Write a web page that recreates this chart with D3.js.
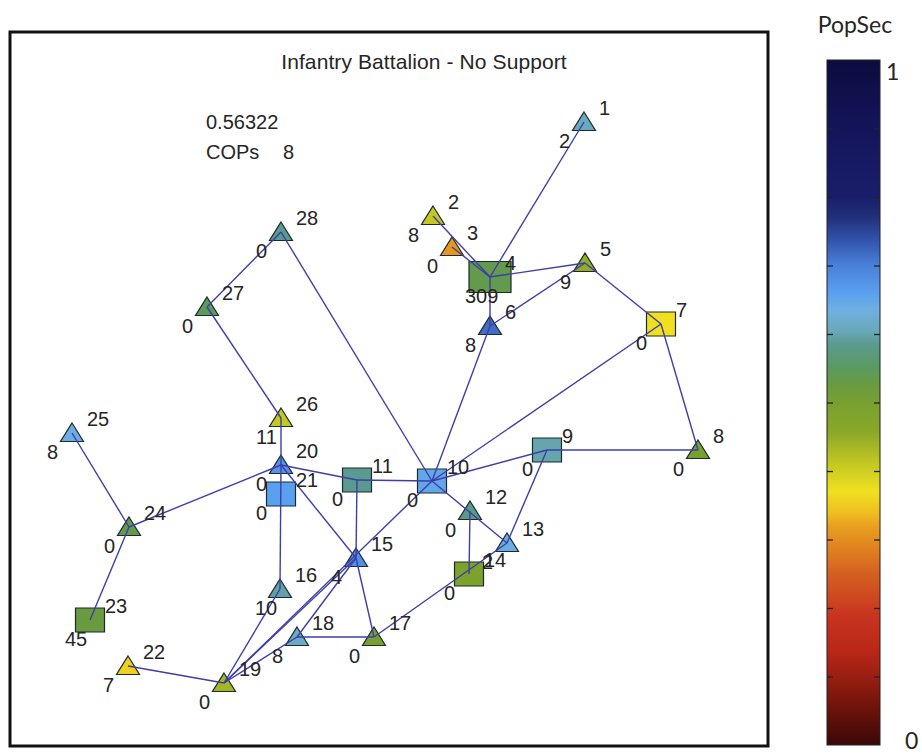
<!DOCTYPE html>
<html>
<head>
<meta charset="utf-8">
<script src="https://cdn.jsdelivr.net/npm/d3@7"></script>
<style>
  body { margin: 0; background: #fff; }
  svg text { font-family: "Liberation Sans", Arial, sans-serif; fill: #252525; }
</style>
</head>
<body>
<svg id="chart" width="922" height="755"></svg>
<script>
// ---- data ----
var title = "Infantry Battalion - No Support";
var scoreText = "0.56322";
var copsCount = 8;

// node layout coordinates (graph units) and attributes
var nodeIds    = [1, 2, 3, 4, 5, 6, 7, 8, 9, 10, 11, 12, 13, 14, 15, 16, 17, 18, 19, 20, 21, 22, 23, 24, 25, 26, 27, 28];
var nodeX      = [574, 423, 442, 480, 575, 480, 651, 688, 537, 422, 347, 460, 497, 459, 346, 270, 364, 287, 214, 271, 271, 118, 80, 119, 62, 271, 197, 271];
var nodeY      = [624, 530, 499, 469, 483, 420, 422, 296, 296, 265, 266, 235, 203, 172, 188, 157, 109, 109, 63, 281, 252, 80, 126, 219, 313, 328, 439, 514];
var nodeShape  = ["t","t","t","S","t","t","s","t","s","s","s","t","t","s","t","t","t","t","t","t","s","t","s","t","t","t","t","t"];
var popSec     = [0.61, 0.41, 0.31, 0.535, 0.45, 0.715, 0.37, 0.50, 0.60, 0.65, 0.585, 0.58, 0.64, 0.49, 0.68, 0.595, 0.50, 0.615, 0.435, 0.675, 0.66, 0.355, 0.525, 0.535, 0.64, 0.41, 0.545, 0.585];
var nodeNote   = [2, 8, 0, 309, 9, 8, 0, 0, 0, 0, 0, 0, 2, 0, 4, 10, 0, 8, 0, 0, 0, 7, 45, 0, 8, 11, 0, 0];

var links = [[1,4],[2,4],[3,4],[4,5],[4,6],[6,5],[5,7],[7,8],[7,10],[6,10],[28,10],[28,27],[27,26],
             [26,20],[20,16],[20,11],[20,15],[20,24],[24,25],[24,23],[11,10],[11,15],[10,9],[9,8],
             [9,13],[10,13],[12,14],[19,10],[19,15],[19,16],[19,18],[18,15],[18,17],[15,17],[17,13],[22,19]];

// colour bar
var cbStops  = [0, 0.04, 0.09, 0.14, 0.19, 0.21, 0.25, 0.285, 0.32, 0.34, 0.37, 0.41, 0.457, 0.50,
                0.525, 0.55, 0.585, 0.605, 0.635, 0.66, 0.70, 0.74, 0.77, 0.80, 0.90, 1];
var cbColors = ["#380808","#601008","#901c10","#bc2818","#c83420","#cc4420","#d46020","#e08020","#e8a020",
                "#f0c020","#f0e020","#c4c822","#8aa828","#78a030","#6a9a40","#5a9a60","#5a9a90","#6aa8b8",
                "#70b0e0","#5aa0f0","#4a80d8","#3050a8","#22307a","#1a1e6a","#14145a","#0c0c40"];
var cbTicks  = [0.1, 0.2, 0.3, 0.4, 0.5, 0.6, 0.7, 0.8, 0.9];

var svg = d3.select("#chart");

// plot frame
var fLeft = 10, fRight = 768, fTop = 32, fBottom = 746;
var x = d3.scaleLinear().domain([0, 758]).range([fLeft, fRight]);
var y = d3.scaleLinear().domain([0, 714]).range([fBottom, fTop]);
var color = d3.scaleLinear().domain(cbStops).range(cbColors);

var nodes = nodeIds.map(function (id, i) {
  return { id: id, x: nodeX[i], y: nodeY[i], shape: nodeShape[i], v: popSec[i], note: nodeNote[i] };
});
var byId = {};
nodes.forEach(function (n) { byId[n.id] = n; });

svg.append("rect")
  .attr("x", fLeft).attr("y", fTop)
  .attr("width", fRight - fLeft).attr("height", fBottom - fTop)
  .attr("fill", "none").attr("stroke", "#111").attr("stroke-width", 3);

svg.append("text")
  .attr("x", 424).attr("y", 69)
  .attr("text-anchor", "middle")
  .style("font-size", "21px")
  .style("letter-spacing", "0.1px")
  .text(title);

svg.append("text").attr("x", 206).attr("y", 129).style("font-size", "20px").text(scoreText);
svg.append("text").attr("x", 206).attr("y", 159).style("font-size", "20px").text("COPs");
svg.append("text").attr("x", 283).attr("y", 159).style("font-size", "20px").text(copsCount);

// markers
var g = svg.append("g");

g.selectAll(".node")
  .data(nodes)
  .enter()
  .append("path")
  .attr("class", "node")
  .attr("d", function (d) {
    if (d.shape === "t") {
      return "M0,-10L11.5,8.5L-11.5,8.5Z";
    }
    var w = d.shape === "S" ? 21 : 14.5, h = d.shape === "S" ? 15.5 : 12;
    return "M" + (-w) + "," + (-h) + "H" + w + "V" + h + "H" + (-w) + "Z";
  })
  .attr("transform", function (d) { return "translate(" + x(d.x) + "," + y(d.y) + ")"; })
  .attr("fill", function (d) { return color(d.v); })
  .attr("stroke", "#1c2a2a")
  .attr("stroke-width", 1.2);

// links drawn over markers
svg.append("g").selectAll("line")
  .data(links)
  .enter()
  .append("line")
  .attr("x1", function (d) { return x(byId[d[0]].x); })
  .attr("y1", function (d) { return y(byId[d[0]].y); })
  .attr("x2", function (d) { return x(byId[d[1]].x); })
  .attr("y2", function (d) { return y(byId[d[1]].y); })
  .attr("stroke", "#3e3ea8")
  .attr("stroke-width", 1.4);

// labels
var lab = svg.append("g");
lab.selectAll(".idl")
  .data(nodes)
  .enter()
  .append("text")
  .attr("x", function (d) { return x(d.x) + 15; })
  .attr("y", function (d) { return y(d.y) - 7; })
  .style("font-size", "20px")
  .text(function (d) { return d.id; });

lab.selectAll(".nl")
  .data(nodes)
  .enter()
  .append("text")
  .attr("x", function (d) { return x(d.x) - 25; })
  .attr("y", function (d) { return y(d.y) + 26; })
  .style("font-size", "20px")
  .text(function (d) { return d.note; });

// colour bar
var cbX0 = 827, cbX1 = 880;
var cy = d3.scaleLinear().domain([0, 1]).range([745, 60]);

var grad = svg.append("defs").append("linearGradient")
  .attr("id", "cbgrad")
  .attr("x1", 0).attr("y1", 1).attr("x2", 0).attr("y2", 0);
grad.selectAll("stop")
  .data(cbStops)
  .enter()
  .append("stop")
  .attr("offset", function (d) { return d; })
  .attr("stop-color", function (d, i) { return cbColors[i]; });

svg.append("rect")
  .attr("x", cbX0).attr("y", cy(1))
  .attr("width", cbX1 - cbX0).attr("height", cy(0) - cy(1))
  .attr("fill", "url(#cbgrad)")
  .attr("stroke", "#222").attr("stroke-width", 1);

var axL = svg.append("g").attr("transform", "translate(" + cbX0 + ",0)")
  .call(d3.axisRight(cy).tickValues(cbTicks).tickSize(6).tickFormat(""));
var axR = svg.append("g").attr("transform", "translate(" + cbX1 + ",0)")
  .call(d3.axisLeft(cy).tickValues(cbTicks).tickSize(6).tickFormat(""));
[axL, axR].forEach(function (a) {
  a.select(".domain").remove();
  a.selectAll("line").attr("stroke", "#222").attr("stroke-width", 1.3);
});

svg.append("text").attr("x", 855).attr("y", 33).attr("text-anchor", "middle")
  .style("font-family", "Lato, sans-serif").style("font-size", "23px").text("PopSec");
svg.append("text").attr("x", 886).attr("y", 80)
  .style("font-family", "Lato, sans-serif").style("font-size", "23px").text("1");
svg.append("text").attr("x", 905).attr("y", 749)
  .style("font-family", "Lato, sans-serif").style("font-size", "23px").text("0");
</script>
</body>
</html>
